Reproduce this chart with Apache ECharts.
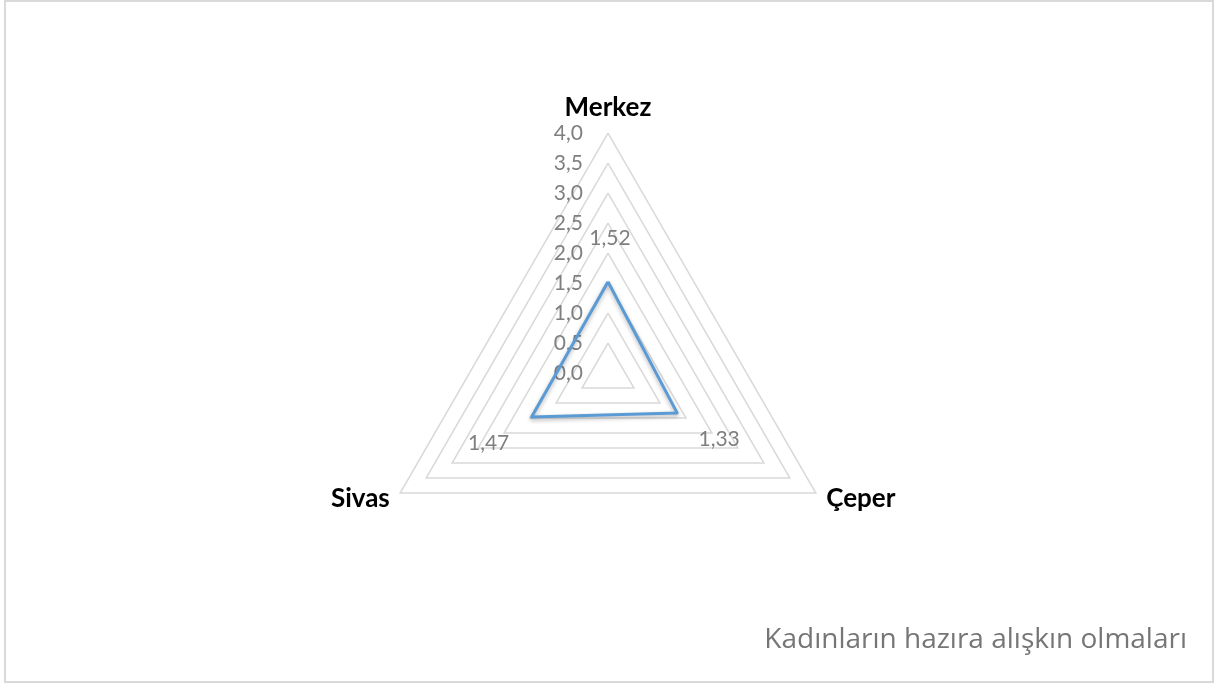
<!DOCTYPE html>
<html>
<head>
<meta charset="utf-8">
<script src="https://cdn.jsdelivr.net/npm/echarts@6/dist/echarts.min.js"></script>
<style>
  html, body { margin: 0; padding: 0; background: #fff; }
  #frame { position: absolute; left: 4px; top: 0px; width: 1206px; height: 679px; border: 2px solid #d9d9d9; }
  #container { position: absolute; left: 0; top: 0; width: 1220px; height: 685px; }
</style>
</head>
<body>
<div id="frame"></div>
<div id="container"></div>
<script>
  // indicator order goes counter-clockwise from the top
  let categories = ['Merkez', 'Sivas', 'Çeper'];
  let values = [1.52, 1.47, 1.33];
  let axisMax = 4;
  let titleText = 'Kadınların hazıra alışkın olmaları';

  // where each value label sits relative to its vertex
  let labelOffsets = [[2, -44], [-43, 26], [42, 26]];

  let fmt = function (v) {
    return Number(v).toFixed(2).replace('.', ',');
  };

  let dom = document.getElementById('container');
  let myChart = echarts.init(dom);

  let indicators = categories.map(function (name, i) {
    let ind = {name: name, min: 0, max: axisMax};
    if (i === 0) {
      ind.axisLabel = {
        show: true,
        color: '#7f7f7f',
        fontSize: 21,
        fontFamily: 'Lato',
        margin: 25,
        formatter: function (v) {
          return Number(v).toFixed(1).replace('.', ',');
        }
      };
    }
    return ind;
  });

  let seriesData = [{
    value: values,
    symbol: 'none',
    lineStyle: {
      color: '#5b9bd5',
      width: 3,
      shadowBlur: 4,
      shadowColor: 'rgba(0,0,0,0.3)',
      shadowOffsetY: 2
    },
    label: {show: false}
  }];

  // one invisible copy per vertex, just to carry that vertex's label
  values.forEach(function (val, i) {
    seriesData.push({
      value: values,
      symbol: 'circle',
      symbolSize: 1,
      itemStyle: {color: 'rgba(0,0,0,0)'},
      lineStyle: {opacity: 0},
      label: {
        show: true,
        position: 'inside',
        offset: labelOffsets[i],
        color: '#7f7f7f',
        fontSize: 21,
        fontFamily: 'Lato',
        formatter: function (p) {
          return p.value === val ? fmt(p.value) : '';
        }
      }
    });
  });

  let option = {
    animation: false,
    title: {
      text: titleText,
      right: 28,
      bottom: 26,
      textStyle: {
        color: '#767676',
        fontSize: 28,
        fontWeight: 'normal',
        fontFamily: 'Open Sans'
      }
    },
    radar: {
      center: [608, 373],
      radius: 240,
      shape: 'polygon',
      splitNumber: 8,
      indicator: indicators,
      axisName: {
        color: '#000',
        fontSize: 26,
        fontWeight: 'bold',
        fontFamily: 'Lato'
      },
      nameGap: 12,
      axisLine: {show: false},
      axisTick: {show: false},
      axisLabel: {show: false},
      splitArea: {show: false},
      splitLine: {
        lineStyle: {color: '#d9d9d9', width: 1.5}
      }
    },
    series: [{
      type: 'radar',
      silent: true,
      data: seriesData
    }]
  };

  myChart.setOption(option, true);
</script>
</body>
</html>
